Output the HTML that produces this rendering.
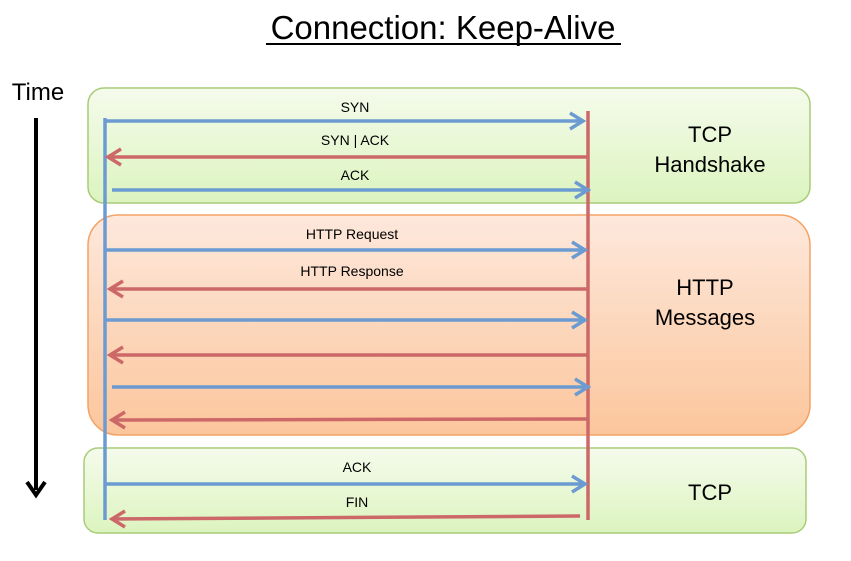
<!DOCTYPE html>
<html><head><meta charset="utf-8"><style>
html,body{margin:0;padding:0;background:#fff;}
svg{display:block;font-family:"Liberation Sans",sans-serif;}
</style></head><body>
<svg width="851" height="561" viewBox="0 0 851 561" xmlns="http://www.w3.org/2000/svg">
<defs>
<linearGradient id="g" x1="0" y1="0" x2="0" y2="1"><stop offset="0" stop-color="#f5fbec"/><stop offset="1" stop-color="#dcf4bf"/></linearGradient>
<linearGradient id="o" x1="0" y1="0" x2="0" y2="1"><stop offset="0" stop-color="#fde8dc"/><stop offset="1" stop-color="#fcc69c"/></linearGradient>
</defs>
<text x="443" y="39" font-size="33" text-anchor="middle" fill="#000">Connection: Keep-Alive</text>
<line x1="266" y1="44" x2="621" y2="44" stroke="#000" stroke-width="2"/>
<text x="38" y="100" font-size="24" text-anchor="middle">Time</text>
<line x1="36" y1="118" x2="36" y2="490" stroke="#000" stroke-width="4"/>
<polyline points="27,482 36,495 45,482" fill="none" stroke="#000" stroke-width="4"/>
<rect x="88" y="88" width="722" height="115" rx="16" fill="url(#g)" stroke="#a8cc78" stroke-width="1.5"/>
<rect x="88" y="215" width="722" height="220" rx="30" fill="url(#o)" stroke="#f4a265" stroke-width="1.5"/>
<rect x="84" y="448" width="722" height="85" rx="14" fill="url(#g)" stroke="#a8cc78" stroke-width="1.5"/>
<g font-size="22" text-anchor="middle" fill="#000">
<text x="710" y="142">TCP</text><text x="710" y="172">Handshake</text>
<text x="705" y="295">HTTP</text><text x="705" y="325">Messages</text>
<text x="710" y="500">TCP</text>
</g>
<g font-size="14" text-anchor="middle" fill="#000">
<text x="355" y="112">SYN</text><text x="355" y="145">SYN | ACK</text><text x="355" y="180">ACK</text>
<text x="352" y="239">HTTP Request</text><text x="352" y="276">HTTP Response</text>
<text x="357" y="472">ACK</text><text x="357" y="507">FIN</text>
</g>
<line x1="105" y1="118" x2="105" y2="520" stroke="#6b9bd1" stroke-width="3.5"/>
<line x1="588" y1="111" x2="588" y2="520" stroke="#cd6868" stroke-width="3.5"/>
<g stroke="#6b9bd1" stroke-width="3.5" fill="none">
<line x1="105" y1="121" x2="583" y2="121"/><polyline points="570,113 583,121 570,129"/>
<line x1="112" y1="190" x2="588" y2="190"/><polyline points="575,182 588,190 575,198"/>
<line x1="105" y1="250" x2="585" y2="250"/><polyline points="572,242 585,250 572,258"/>
<line x1="105" y1="320" x2="585" y2="320"/><polyline points="572,312 585,320 572,328"/>
<line x1="112" y1="387" x2="588" y2="387"/><polyline points="575,379 588,387 575,395"/>
<line x1="105" y1="484" x2="585" y2="484"/><polyline points="572,476 585,484 572,492"/>
</g>
<g stroke="#cd6868" stroke-width="3.5" fill="none">
<line x1="588" y1="157" x2="108" y2="157"/><polyline points="121,149 108,157 121,165"/>
<line x1="588" y1="289" x2="110" y2="289"/><polyline points="123,281 110,289 123,297"/>
<line x1="588" y1="355" x2="110" y2="355"/><polyline points="123,347 110,355 123,363"/>
<line x1="588" y1="419" x2="112" y2="420"/><polyline points="125,412 112,420 125,428"/>
<line x1="580" y1="516" x2="112" y2="519"/><polyline points="125,511 112,519 125,527"/>
</g>
</svg>
</body></html>
